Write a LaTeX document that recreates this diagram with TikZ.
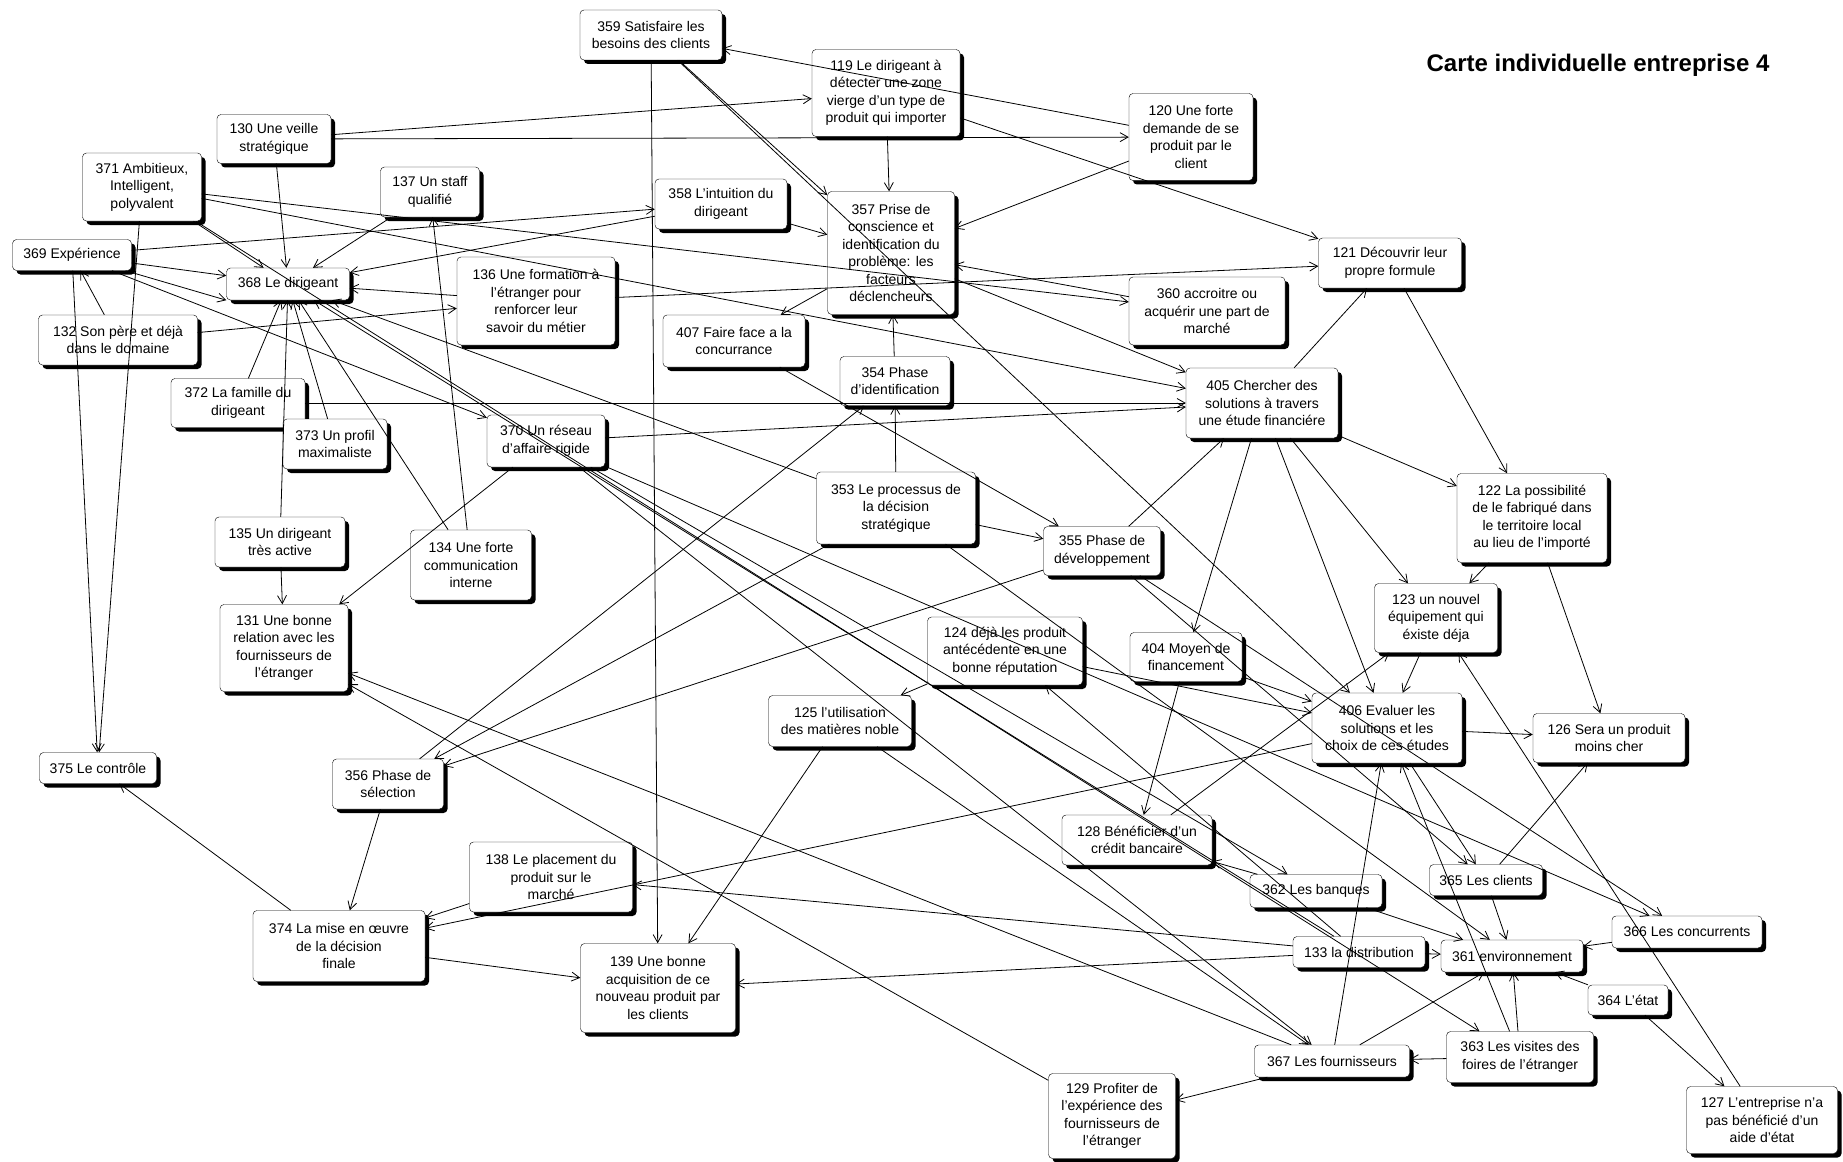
\documentclass[tikz,border=0pt]{standalone}
\usepackage{fontspec}
\setmainfont{Liberation Sans}
\usetikzlibrary{arrows.meta,shadows}

\tikzset{
  box/.style={draw, rounded corners=4pt, fill=white, align=center, inner sep=1pt,
    font=\fontsize{14}{17.5}\selectfont,
    drop shadow={shadow xshift=4pt,shadow yshift=-4pt,fill=black,opacity=1}},
  edge/.style={-{Straight Barb[length=8pt,width=9pt]}, line width=0.8pt}
}

\begin{document}
\begin{tikzpicture}[x=1pt,y=-1pt]

  \fill[white] (0,0) rectangle (1843,1161);
  \useasboundingbox (0,0) rectangle (1843,1161);

  % Title
  \node[font=\bfseries\fontsize{24}{28}\selectfont] (title) at (1598,65) {Carte individuelle entreprise 4};

  % Top row
  \node[box, minimum width=142pt, minimum height=50pt] (n359) at (651,35) {359 Satisfaire les\\besoins des clients};
  \node[box, minimum width=148pt, minimum height=87pt] (n119) at (886,93) {119 Le dirigeant à\\détecter une zone\\vierge d'un type de\\produit qui importer};
  \node[box, minimum width=124pt, minimum height=87pt] (n120) at (1191,137) {120 Une forte\\demande de se\\produit par le\\client};
  \node[box, minimum width=114pt, minimum height=49pt] (n130) at (274,139) {130 Une veille\\stratégique};
  \node[box, minimum width=119pt, minimum height=68pt] (n371) at (142,187) {371 Ambitieux,\\Intelligent,\\polyvalent};
  \node[box, minimum width=99pt, minimum height=50pt] (n137) at (430,192) {137 Un staff\\qualifié};
  \node[box, minimum width=132pt, minimum height=50pt] (n358) at (721,204) {358 L'intuition du\\dirigeant};
  \node[box, minimum width=127pt, minimum height=123pt] (n357) at (891,253) {357 Prise de\\conscience et\\identification du\\problème: les\\facteurs\\déclencheurs};

  % Upper middle
  \node[box, minimum width=119pt, minimum height=31pt] (n369) at (72,255) {369 Expérience};
  \node[box, minimum width=123pt, minimum height=32pt] (n368) at (288,284) {368 Le dirigeant};
  \node[box, minimum width=158pt, minimum height=88pt] (n136) at (536,301) {136 Une formation à\\l'étranger pour\\renforcer leur\\savoir du métier};
  \node[box, minimum width=159pt, minimum height=50pt] (n132) at (118,340) {132 Son père et déjà\\dans le domaine};
  \node[box, minimum width=142pt, minimum height=52pt] (n407) at (734,341) {407 Faire face a la\\concurrance};
  \node[box, minimum width=156pt, minimum height=68pt] (n360) at (1207,311) {360 accroitre ou\\acquérir une part de\\marché};
  \node[box, minimum width=143pt, minimum height=50pt] (n121) at (1390,263) {121 Découvrir leur\\propre formule};
  \node[box, minimum width=152pt, minimum height=70pt] (n405) at (1262,403) {405 Chercher des\\solutions à travers\\une étude financiére};
  \node[box, minimum width=110pt, minimum height=49pt] (n354) at (895,381) {354 Phase\\d'identification};
  \node[box, minimum width=134pt, minimum height=49pt] (n372) at (238,403) {372 La famille du\\dirigeant};
  \node[box, minimum width=104pt, minimum height=50pt] (n373) at (335,444) {373 Un profil\\maximaliste};
  \node[box, minimum width=118pt, minimum height=52pt] (n370) at (546,441) {370 Un réseau\\d'affaire rigide};
  \node[box, minimum width=159pt, minimum height=72pt] (n353) at (896,508) {353 Le processus de\\la décision\\stratégique};
  \node[box, minimum width=150pt, minimum height=89pt] (n122) at (1532,518) {122 La possibilité\\de le fabriqué dans\\le territoire local\\au lieu de l'importé};

  % Lower middle
  \node[box, minimum width=130pt, minimum height=50pt] (n135) at (280,542) {135 Un dirigeant\\très active};
  \node[box, minimum width=121pt, minimum height=70pt] (n134) at (471,565) {134 Une forte\\communication\\interne};
  \node[box, minimum width=117pt, minimum height=49pt] (n355) at (1102,551) {355 Phase de\\développement};
  \node[box, minimum width=123pt, minimum height=69pt] (n123) at (1436,618) {123 un nouvel\\équipement qui\\éxiste déja};
  \node[box, minimum width=128pt, minimum height=87pt] (n131) at (284,648) {131 Une bonne\\relation avec les\\fournisseurs de\\l'étranger};
  \node[box, minimum width=155pt, minimum height=68pt] (n124) at (1005,651) {124 déjà les produit\\antécédente en une\\bonne réputation};
  \node[box, minimum width=112pt, minimum height=49pt] (n404) at (1186,657) {404 Moyen de\\financement};
  \node[box, minimum width=143pt, minimum height=51pt] (n125) at (840,721) {125 l'utilisation\\des matières noble};
  \node[box, minimum width=150pt, minimum height=70pt] (n406) at (1387,728) {406 Evaluer les\\solutions et les\\choix de ces études};
  \node[box, minimum width=152pt, minimum height=49pt] (n126) at (1609,738) {126 Sera un produit\\moins cher};

  % Bottom
  \node[box, minimum width=117pt, minimum height=31pt] (n375) at (98,768) {375 Le contrôle};
  \node[box, minimum width=111pt, minimum height=50pt] (n356) at (388,784) {356 Phase de\\sélection};
  \node[box, minimum width=150pt, minimum height=50pt] (n128) at (1137,840) {128 Bénéficier d'un\\crédit bancaire};
  \node[box, minimum width=163pt, minimum height=70pt] (n138) at (551,877) {138 Le placement du\\produit sur le\\marché};
  \node[box, minimum width=132pt, minimum height=33pt] (n362) at (1316,891) {362 Les banques};
  \node[box, minimum width=113pt, minimum height=31pt] (n365) at (1486,880) {365 Les clients};
  \node[box, minimum width=172pt, minimum height=71pt] (n374) at (339,946) {374 La mise en œuvre\\de la décision\\finale};
  \node[box, minimum width=150pt, minimum height=32pt] (n366) at (1687,932) {366 Les concurrents};
  \node[box, minimum width=132pt, minimum height=31pt] (n133) at (1359,952) {133 la distribution};
  \node[box, minimum width=142pt, minimum height=32pt] (n361) at (1512,956) {361 environnement};
  \node[box, minimum width=155pt, minimum height=89pt] (n139) at (658,988) {139 Une bonne\\acquisition de ce\\nouveau produit par\\les clients};
  \node[box, minimum width=80pt, minimum height=30pt] (n364) at (1628,1000) {364 L'état};
  \node[box, minimum width=147pt, minimum height=51pt] (n363) at (1520,1057) {363 Les visites des\\foires de l'étranger};
  \node[box, minimum width=155pt, minimum height=32pt] (n367) at (1332,1061) {367 Les fournisseurs};
  \node[box, minimum width=127pt, minimum height=85pt] (n129) at (1112,1116) {129 Profiter de\\l'expérience des\\fournisseurs de\\l'étranger};
  \node[box, minimum width=151pt, minimum height=67pt] (n127) at (1762,1120) {127 L'entreprise n'a\\pas bénéficié d'un\\aide d'état};

  % Links towards 368 Le dirigeant
  \draw[edge] (n130) -- (n368);
  \draw[edge] (n137) -- (n368);
  \draw[edge] (n371) -- (n368);
  \draw[edge] (n369) -- (n368);
  \draw[edge] (n369) -- (n368.south west);
  \draw[edge] (n358) -- (n368);
  \draw[edge] (n136) -- (n368);
  \draw[edge] (n372) -- (n368);
  \draw[edge] (n135) -- (n368);
  \draw[edge] (n373) -- (n368);
  \draw[edge] (n134) -- (n368);
  \draw[edge] (n353) -- (n368);
  \draw[edge] (n133) -- (n368);

  % Top links
  \draw[edge] (n120) -- (n359);
  \draw[edge] (n130) -- (n119);
  \draw[edge] (n130) -- (n120);
  \draw[edge] (n119) -- (n357);
  \draw[edge] (n119) -- (n121);
  \draw[edge] (n120) -- (n357);
  \draw[edge] (n136) -- (n121);
  \draw[edge] (n360) -- (n357);
  \draw[edge] (n357) -- (n405);
  \draw[edge] (n371) -- (n360);
  \draw[edge] (n371) -- (n405);
  \draw[edge] (n358) -- (n357);
  \draw[edge] (n369) -- (n358);
  \draw[edge] (n359) -- (n357);
  \draw[edge] (n359) -- (n406);
  \draw[edge] (n359) -- (n139);

  % Left column
  \draw[edge] (n132) -- (n136);
  \draw[edge] (n132) -- (n369);
  \draw[edge] (n369) -- (n370);
  \draw[edge] (n369) -- (n375);
  \draw[edge] (n371) -- (n375);
  \draw[edge] (n371) -- (n363);
  \draw[edge] (n134) -- (n137);
  \draw[edge] (n372) -- (n405);
  \draw[edge] (n370) -- (n405);
  \draw[edge] (n370) -- (n131);
  \draw[edge] (n135) -- (n131);
  \draw[edge] (n370) -- (n362);
  \draw[edge] (n370) -- (n367);
  \draw[edge] (n370) -- (n366);

  % Decision phases
  \draw[edge] (n353) -- (n354);
  \draw[edge] (n354) -- (n357);
  \draw[edge] (n357) -- (n407);
  \draw[edge] (n407) -- (n355);
  \draw[edge] (n353) -- (n355);
  \draw[edge] (n355) -- (n405);
  \draw[edge] (n356) -- (n354);
  \draw[edge] (n353) -- (n356);
  \draw[edge] (n355) -- (n356);
  \draw[edge] (n353) -- (n361);
  \draw[edge] (n355) -- (n365);
  \draw[edge] (n355) -- (n366);

  % 405 and the right side
  \draw[edge] (n405) -- (n404);
  \draw[edge] (n405) -- (n406);
  \draw[edge] (n405) -- (n123);
  \draw[edge] (n405) -- (n122);
  \draw[edge] (n405) -- (n121);
  \draw[edge] (n121) -- (n122);
  \draw[edge] (n122) -- (n123);
  \draw[edge] (n122) -- (n126);
  \draw[edge] (n123) -- (n406);
  \draw[edge] (n128) -- (n123);
  \draw[edge] (n127) -- (n123);
  \draw[edge] (n406) -- (n126);
  \draw[edge] (n365) -- (n126);
  \draw[edge] (n406) -- (n365);
  \draw[edge] (n124) -- (n125);
  \draw[edge] (n124) -- (n406);
  \draw[edge] (n404) -- (n406);
  \draw[edge] (n404) -- (n128);
  \draw[edge] (n133) -- (n124);

  % Bottom left
  \draw[edge] (n406) -- (n374);
  \draw[edge] (n138) -- (n374);
  \draw[edge] (n356) -- (n374);
  \draw[edge] (n374) -- (n375);
  \draw[edge] (n374) -- (n139);
  \draw[edge] (n125) -- (n139);
  \draw[edge] (n133) -- (n139);
  \draw[edge] (n133) -- (n138);
  \draw[edge] (n125) -- (n367);

  % Environment
  \draw[edge] (n367) -- (n131);
  \draw[edge] (n129) -- (n131);
  \draw[edge] (n367) -- (n129);
  \draw[edge] (n363) -- (n367);
  \draw[edge] (n367) -- (n361);
  \draw[edge] (n363) -- (n361);
  \draw[edge] (n363) -- (n406);
  \draw[edge] (n367) -- (n406);
  \draw[edge] (n365) -- (n361);
  \draw[edge] (n366) -- (n361);
  \draw[edge] (n364) -- (n361);
  \draw[edge] (n364) -- (n127);
  \draw[edge] (n133) -- (n361);
  \draw[edge] (n362) -- (n361);
  \draw[edge] (n362) -- (n128);
\end{tikzpicture}
\end{document}
